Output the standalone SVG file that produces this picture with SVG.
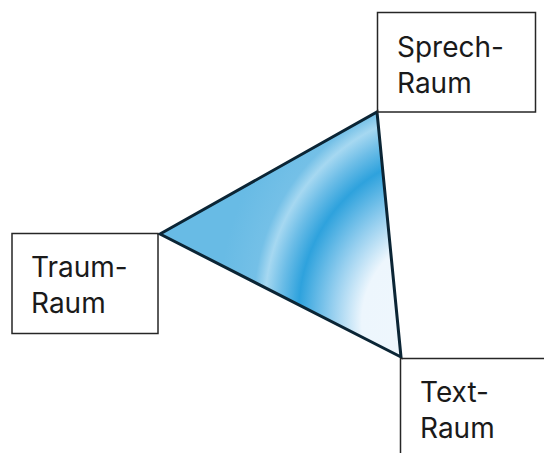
<svg xmlns="http://www.w3.org/2000/svg" width="544" height="453" viewBox="0 0 544 453">
<style>
.box{fill:none;stroke:#262626;stroke-width:1.5}
.lbl{font-family:Inter,"Noto Sans",sans-serif;font-size:28px;fill:#1a1a1a}
</style>
<defs>
<radialGradient id="g" gradientUnits="userSpaceOnUse" cx="470" cy="300" r="250" fx="445" fy="335">
<stop offset="0" stop-color="#f0f7fd"/>
<stop offset="0.37" stop-color="#edf6fd"/>
<stop offset="0.50" stop-color="#96cfef"/>
<stop offset="0.65" stop-color="#2ea2dd"/>
<stop offset="0.73" stop-color="#6cbde7"/>
<stop offset="0.80" stop-color="#a6d8f1"/>
<stop offset="0.85" stop-color="#74c0e7"/>
<stop offset="1" stop-color="#68bbe5"/>
</radialGradient>
</defs>
<g id="connectors">
<polygon points="160,234 377,112 401,357" fill="url(#g)" stroke="#0b2535" stroke-width="3" stroke-linejoin="miter"/>
</g>
<g id="sprech">
<rect class="box" x="377.5" y="12.5" width="158" height="99.5"/>
<text class="lbl" x="397" y="57">Sprech-</text>
<text class="lbl" x="397" y="93">Raum</text>
</g>
<g id="traum">
<rect class="box" x="12" y="233.5" width="146" height="100"/>
<text class="lbl" x="31" y="277">Traum-</text>
<text class="lbl" x="31" y="313">Raum</text>
</g>
<g id="text">
<path class="box" d="M544,358.5 H400.5 V453"/>
<text class="lbl" x="420" y="402">Text-</text>
<text class="lbl" x="420" y="438">Raum</text>
</g>
</svg>
